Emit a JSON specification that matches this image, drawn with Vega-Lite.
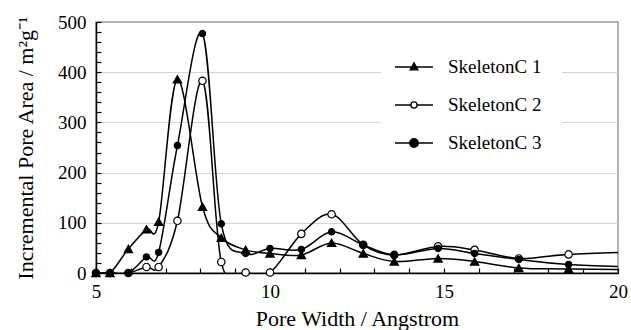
{
  "$schema": "https://vega.github.io/schema/vega-lite/v6.json",
  "autosize": "none",
  "width": 522,
  "height": 251,
  "padding": {"left": 96, "top": 22, "right": 13, "bottom": 57},
  "background": "white",
  "config": {
    "font": "Liberation Serif",
    "view": {"stroke": "#9a9a9a", "strokeWidth": 1.5},
    "axis": {
      "domainColor": "black",
      "domainWidth": 1.5,
      "labelFont": "Liberation Serif",
      "labelFontSize": 19,
      "labelColor": "black",
      "labelOverlap": false,
      "labelFlush": false,
      "titleFont": "Liberation Serif",
      "titleFontSize": 22,
      "titleFontWeight": "normal",
      "titleColor": "black"
    }
  },
  "data": {
    "values": [
      {"x": 5.0, "y": 0, "s": "SkeletonC 1"},
      {"x": 5.4, "y": 0, "s": "SkeletonC 1"},
      {"x": 5.93, "y": 48, "s": "SkeletonC 1"},
      {"x": 6.45, "y": 87, "s": "SkeletonC 1"},
      {"x": 6.8, "y": 102, "s": "SkeletonC 1"},
      {"x": 7.34, "y": 386, "s": "SkeletonC 1"},
      {"x": 8.06, "y": 132, "s": "SkeletonC 1"},
      {"x": 8.6, "y": 70, "s": "SkeletonC 1"},
      {"x": 9.3, "y": 46, "s": "SkeletonC 1"},
      {"x": 10.0, "y": 39, "s": "SkeletonC 1"},
      {"x": 10.9, "y": 36, "s": "SkeletonC 1"},
      {"x": 11.77, "y": 60, "s": "SkeletonC 1"},
      {"x": 12.68, "y": 39, "s": "SkeletonC 1"},
      {"x": 13.57, "y": 23, "s": "SkeletonC 1"},
      {"x": 14.83, "y": 29, "s": "SkeletonC 1"},
      {"x": 15.88, "y": 23, "s": "SkeletonC 1"},
      {"x": 17.15, "y": 10, "s": "SkeletonC 1"},
      {"x": 18.58, "y": 8, "s": "SkeletonC 1"},
      {"x": 21.6, "y": 6, "s": "SkeletonC 1"},
      {"x": 5.0, "y": 0, "s": "SkeletonC 2"},
      {"x": 5.4, "y": 0, "s": "SkeletonC 2"},
      {"x": 5.93, "y": 0, "s": "SkeletonC 2"},
      {"x": 6.45, "y": 12, "s": "SkeletonC 2"},
      {"x": 6.8, "y": 12, "s": "SkeletonC 2"},
      {"x": 7.34, "y": 104, "s": "SkeletonC 2"},
      {"x": 8.06, "y": 383, "s": "SkeletonC 2"},
      {"x": 8.6, "y": 22, "s": "SkeletonC 2"},
      {"x": 9.3, "y": 1, "s": "SkeletonC 2"},
      {"x": 10.0, "y": 1, "s": "SkeletonC 2"},
      {"x": 10.9, "y": 78, "s": "SkeletonC 2"},
      {"x": 11.77, "y": 117, "s": "SkeletonC 2"},
      {"x": 12.68, "y": 56, "s": "SkeletonC 2"},
      {"x": 13.57, "y": 36, "s": "SkeletonC 2"},
      {"x": 14.83, "y": 53, "s": "SkeletonC 2"},
      {"x": 15.88, "y": 46, "s": "SkeletonC 2"},
      {"x": 17.15, "y": 29, "s": "SkeletonC 2"},
      {"x": 18.58, "y": 37, "s": "SkeletonC 2"},
      {"x": 21.6, "y": 44, "s": "SkeletonC 2"},
      {"x": 5.0, "y": 0, "s": "SkeletonC 3"},
      {"x": 5.4, "y": 0, "s": "SkeletonC 3"},
      {"x": 5.93, "y": 0, "s": "SkeletonC 3"},
      {"x": 6.45, "y": 32, "s": "SkeletonC 3"},
      {"x": 6.8, "y": 41, "s": "SkeletonC 3"},
      {"x": 7.34, "y": 254, "s": "SkeletonC 3"},
      {"x": 8.06, "y": 477, "s": "SkeletonC 3"},
      {"x": 8.6, "y": 98, "s": "SkeletonC 3"},
      {"x": 9.3, "y": 39, "s": "SkeletonC 3"},
      {"x": 10.0, "y": 49, "s": "SkeletonC 3"},
      {"x": 10.9, "y": 47, "s": "SkeletonC 3"},
      {"x": 11.77, "y": 82, "s": "SkeletonC 3"},
      {"x": 12.68, "y": 56, "s": "SkeletonC 3"},
      {"x": 13.57, "y": 36, "s": "SkeletonC 3"},
      {"x": 14.83, "y": 49, "s": "SkeletonC 3"},
      {"x": 15.88, "y": 39, "s": "SkeletonC 3"},
      {"x": 17.15, "y": 27, "s": "SkeletonC 3"},
      {"x": 18.58, "y": 17, "s": "SkeletonC 3"},
      {"x": 21.6, "y": 9, "s": "SkeletonC 3"}
    ]
  },
  "encoding": {
    "x": {
      "field": "x",
      "type": "quantitative",
      "scale": {"domain": [5, 20], "nice": false, "zero": false},
      "axis": {
        "title": "Pore Width / Angstrom",
        "values": [5, 6, 7, 8, 9, 10, 11, 12, 13, 14, 15, 16, 17, 18, 19, 20],
        "labelExpr": "datum.value % 5 === 0 ? datum.label : ''",
        "grid": false,
        "ticks": true,
        "tickSize": -5,
        "tickColor": "black",
        "tickWidth": 1.2,
        "tickOpacity": 1,
        "labelPadding": 14,
        "titlePadding": 7
      }
    },
    "y": {
      "field": "y",
      "type": "quantitative",
      "scale": {"domain": [0, 500], "nice": false},
      "axis": {
        "title": "Incremental Pore Area / m²g⁻¹",
        "values": [0, 20, 40, 60, 80, 100, 120, 140, 160, 180, 200, 220, 240, 260, 280, 300, 320, 340, 360, 380, 400, 420, 440, 460, 480, 500],
        "labelExpr": "datum.value % 100 === 0 ? datum.label : ''",
        "grid": true,
        "gridColor": "#d4d4d4",
        "gridWidth": 1.2,
        "gridOpacity": {"condition": {"test": "datum.value % 100 === 0 && datum.value > 0 && datum.value < 500", "value": 1}, "value": 0},
        "ticks": true,
        "tickSize": -5,
        "tickColor": "black",
        "tickWidth": 1.2,
        "tickOpacity": 1,
        "labelPadding": 15,
        "titlePadding": 20
      }
    }
  },
  "layer": [
    {
      "mark": {"type": "line", "interpolate": "cardinal", "strokeWidth": 1.5, "clip": true},
      "encoding": {
        "stroke": {
          "field": "s",
          "type": "nominal",
          "scale": {"domain": ["SkeletonC 1", "SkeletonC 2", "SkeletonC 3"], "range": ["black", "black", "black"]},
          "legend": {
            "title": null,
            "orient": "none",
            "legendX": 285,
            "legendY": 12,
            "padding": 20,
            "fillColor": "white",
            "rowPadding": 15,
            "labelOffset": 21,
            "labelFont": "Liberation Serif",
            "labelFontSize": 19,
            "labelColor": "black",
            "symbolSize": 564,
            "symbolStrokeWidth": 1.4,
            "encode": {
              "symbols": {
                "update": {
                  "shape": {"signal": "datum.value === 'SkeletonC 1' ? 'M-1.6,0L1.6,0M0,-0.34L0.32,0.24L-0.32,0.24Z' : datum.value === 'SkeletonC 2' ? 'M-1.6,0L-0.26,0M0.26,0L1.6,0M0.26,0A0.26,0.26,0,1,1,-0.26,0A0.26,0.26,0,1,1,0.26,0Z' : 'M-1.6,0L1.6,0M0.36,0A0.36,0.36,0,1,1,-0.36,0A0.36,0.36,0,1,1,0.36,0Z'"},
                  "fill": {"signal": "datum.value === 'SkeletonC 2' ? 'white' : 'black'"},
                  "size": {"value": 564},
                  "opacity": {"value": 1},
                  "fillOpacity": {"value": 1},
                  "strokeWidth": {"value": 1.4}
                }
              }
            }
          }
        },
        "detail": {"field": "s"}
      }
    },
    {
      "transform": [{"filter": "datum.x <= 20"}],
      "mark": {"type": "point", "filled": false, "stroke": "black", "strokeWidth": 1.2, "opacity": 1},
      "encoding": {
        "shape": {
          "field": "s",
          "type": "nominal",
          "scale": {"range": ["triangle-up", "circle", "circle"]},
          "legend": null
        },
        "fill": {
          "field": "s",
          "type": "nominal",
          "scale": {"range": ["black", "white", "black"]},
          "legend": null
        },
        "size": {
          "field": "s",
          "type": "nominal",
          "scale": {"range": [70, 40, 90]},
          "legend": null
        }
      }
    }
  ]
}
